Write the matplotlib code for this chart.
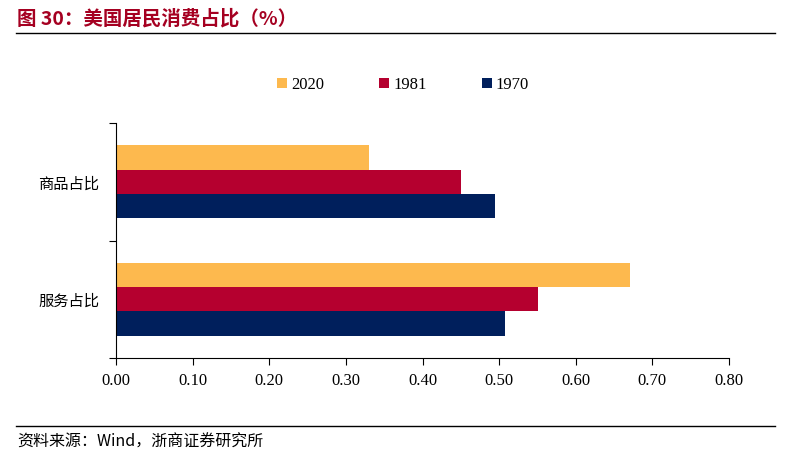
import matplotlib.pyplot as plt
import numpy as np

# data
categories = ['商品占比', '服务占比']
years = ['2020', '1981', '1970']
values_2020 = [0.33, 0.671]
values_1981 = [0.45, 0.551]
values_1970 = [0.494, 0.507]
colors = ['#FDB94E', '#B5002F', '#001F5C']
xticks = [0.0, 0.1, 0.2, 0.3, 0.4, 0.5, 0.6, 0.7, 0.8]

plt.rcParams['font.family'] = ['Liberation Serif', 'Noto Sans CJK SC', 'DejaVu Sans']

fig = plt.figure(figsize=(7.91, 4.59), dpi=100)
ax = fig.add_axes([0.1467, 0.22, 0.775, 0.512])

pos = np.array([1.0, 0.0])  # goods on top
h = 0.207
series = [values_2020, values_1981, values_1970]
for i, (vals, yr, c) in enumerate(zip(series, years, colors)):
    ax.barh(pos + h - i * h, vals, height=h, color=c, label=yr)

ax.set_xlim(0, 0.8)
ax.set_ylim(-0.5, 1.5)
ax.set_xticks(xticks)
ax.set_xticklabels([f'{v:.2f}' for v in xticks], fontsize=12)
ax.set_yticks([-0.5, 0.5, 1.5])
ax.set_yticklabels([])
ax.set_yticks(pos, minor=True)
ax.set_yticklabels(categories, minor=True, fontsize=11, family=['Noto Sans CJK SC'])
ax.tick_params(axis='y', which='minor', length=0, pad=12)
ax.tick_params(axis='y', which='major', length=5, direction='out')
ax.tick_params(axis='x', length=5, direction='out', pad=6)
for s in ['top', 'right']:
    ax.spines[s].set_visible(False)

ax.legend(loc='center', bbox_to_anchor=(0.468, 1.162), ncol=3, frameon=False,
          fontsize=12, handlelength=0.6, handleheight=0.6, handletextpad=0.25,
          columnspacing=3.3)

# title and source
fig.text(0.022, 0.96, '图 30：美国居民消费占比（%）', fontsize=14, fontweight='bold',
         color='#A50021', va='center', family=['Noto Sans CJK SC', 'DejaVu Sans'])
fig.add_artist(plt.Line2D([0.02, 0.98], [0.928, 0.928], color='black', lw=1))
fig.add_artist(plt.Line2D([0.02, 0.98], [0.072, 0.072], color='black', lw=1))
fig.text(0.022, 0.036, '资料来源：Wind，浙商证券研究所', fontsize=11.5, va='center',
         family=['Noto Sans CJK SC', 'DejaVu Sans'])

plt.savefig('out.png', dpi=100)
